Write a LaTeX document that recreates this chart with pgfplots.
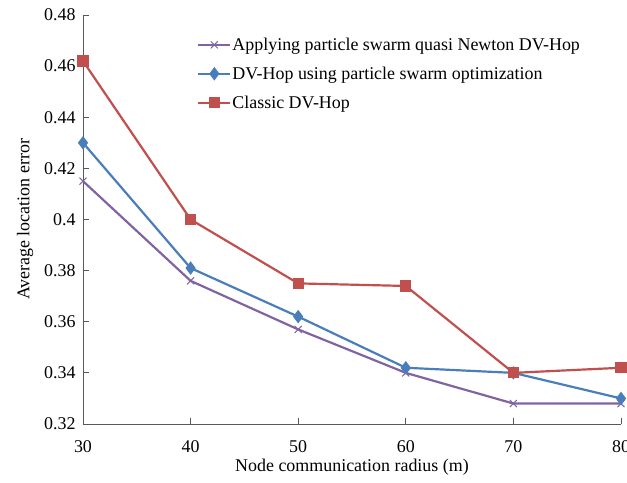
\documentclass[border=0pt]{standalone}
\usepackage{fontspec}
\setmainfont{Liberation Serif}
\usepackage{pgfplots}
\pgfplotsset{compat=1.18}

\definecolor{cPurple}{RGB}{128,100,162}
\definecolor{cBlue}{RGB}{74,126,187}
\definecolor{cRed}{RGB}{192,80,77}
\definecolor{cAxis}{RGB}{89,89,89}

\begin{document}
\begin{tikzpicture}
\begin{axis}[
  scale only axis,
  width=538bp, height=409bp,
  xmin=30, xmax=80, ymin=0.32, ymax=0.48,
  xtick={30,40,50,60,70,80},
  ytick={0.32,0.34,0.36,0.38,0.40,0.42,0.44,0.46,0.48},
  yticklabels={0.32,0.34,0.36,0.38,0.4,0.42,0.44,0.46,0.48},
  axis x line*=bottom, axis y line*=left,
  axis line style={cAxis, line width=0.8pt, -},
  tick style={cAxis, line width=0.8pt},
  tick align=inside,
  major tick length=6bp,
  /pgf/number format/assume math mode=true,
  ticklabel style={font=\fontsize{18}{20}\selectfont, text=black},
  xticklabel style={yshift=-13bp},
  yticklabel style={xshift=-4bp},
  xlabel={Node communication radius (m)},
  ylabel={Average location error},
  label style={font=\fontsize{18}{20}\selectfont},
  xlabel style={yshift=0bp},
  ylabel style={yshift=4bp},
  legend style={draw=none, fill=none, at={(0.212,0.947)}, anchor=north west,
    font=\fontsize{18}{20}\selectfont, row sep=13bp, inner sep=0pt,
    nodes={inner sep=1bp}},
  legend cell align=left,
  legend image code/.code={
    \draw[#1, mark repeat=2, mark phase=2] plot coordinates {(0bp,0bp) (16bp,0bp) (32bp,0bp)};
  },
  every axis plot/.append style={line width=2.2pt},
  clip=false,
]
\coordinate (o) at (rel axis cs:0,0);

\addplot[color=cPurple, mark=x, mark size=5bp, mark options={line width=1pt}]
  coordinates {(30,0.415) (40,0.376) (50,0.357) (60,0.340) (70,0.328) (80,0.328)};
\addlegendentry{Applying particle swarm quasi Newton DV-Hop}

\addplot[color=cBlue, mark=diamond*, mark size=5bp]
  coordinates {(30,0.430) (40,0.381) (50,0.362) (60,0.342) (70,0.340) (80,0.330)};
\addlegendentry{DV-Hop using particle swarm optimization}

\addplot[color=cRed, mark=square*, mark size=4.5bp]
  coordinates {(30,0.462) (40,0.400) (50,0.375) (60,0.374) (70,0.340) (80,0.342)};
\addlegendentry{Classic DV-Hop}
\end{axis}
\pgfresetboundingbox
\path[use as bounding box] ([shift={(-83bp,-59bp)}]o) rectangle ([shift={(544bp,424bp)}]o);
\end{tikzpicture}
\end{document}
